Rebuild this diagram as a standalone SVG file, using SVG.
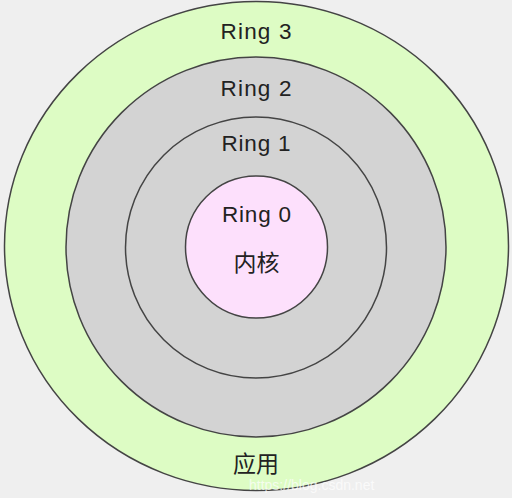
<svg xmlns="http://www.w3.org/2000/svg" width="512" height="498" viewBox="0 0 512 498">
<style>
.ring{stroke:#444;stroke-width:1.5}
.lbl{font-family:"Liberation Sans","Noto Sans CJK SC",Arial,sans-serif;font-size:22.5px;fill:#222;text-anchor:middle}
.cjk{font-family:"Noto Sans CJK SC","Liberation Sans",sans-serif;font-size:23px;fill:#222;text-anchor:middle}
.wm{font-family:"Liberation Sans",Arial,sans-serif;font-size:14px;fill:#fff;opacity:0.7}
</style>
<rect x="0" y="0" width="512" height="498" fill="#efefef"/>
<g id="ring3">
<ellipse class="ring" cx="256.5" cy="246" rx="252" ry="244.5" fill="#ddfcc4"/>
<text class="lbl" x="256" y="39" textLength="71" lengthAdjust="spacing">Ring 3</text>
<text class="cjk" x="256" y="472">应用</text>
</g>
<g id="ring2">
<circle class="ring" cx="256" cy="247" r="190" fill="#d3d3d3"/>
<text class="lbl" x="256" y="96" textLength="71" lengthAdjust="spacing">Ring 2</text>
</g>
<g id="ring1">
<circle class="ring" cx="256" cy="247.5" r="130.5" fill="#d3d3d3"/>
<text class="lbl" x="256" y="151" textLength="69" lengthAdjust="spacing">Ring 1</text>
</g>
<g id="ring0">
<circle class="ring" cx="256.5" cy="247" r="71" fill="#fde0fc"/>
<text class="lbl" x="256.5" y="222" textLength="69" lengthAdjust="spacing">Ring 0</text>
<text class="cjk" x="256.5" y="271">内核</text>
</g>
<g id="connectors"/>
<text class="wm" x="249" y="490">https://blog.csdn.net</text>
</svg>
